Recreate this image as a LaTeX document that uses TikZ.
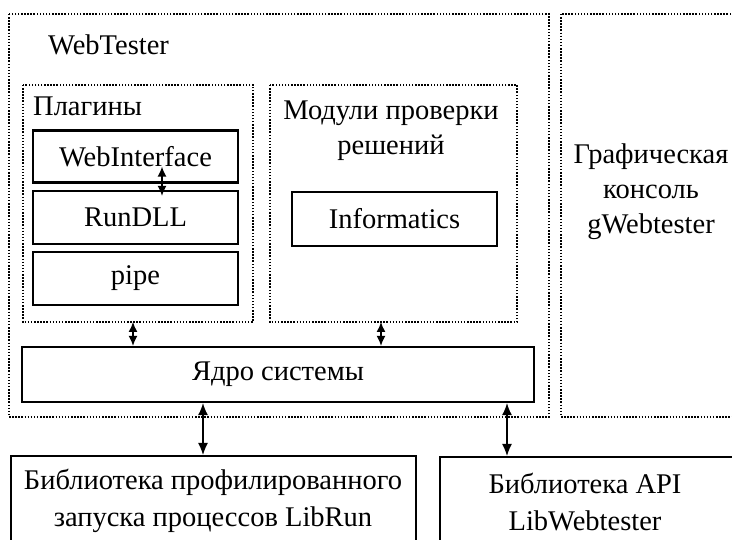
\documentclass[tikz,border=0pt]{standalone}
\usepackage{fontspec}
\setmainfont{Liberation Serif}
\usetikzlibrary{arrows.meta}
\begin{document}
\begin{tikzpicture}[x=1pt,y=-1pt,
  txt/.style={font=\fontsize{28.5}{35}\selectfont, inner sep=0pt, align=center},
  solidbox/.style={draw, line width=2.2pt},
  dotbox/.style={draw, line width=2pt, dash pattern=on 1.5pt off 1.6pt},
  biarrow/.style={line width=1.4pt, {Latex[length=12pt,width=10pt]}-{Latex[length=12pt,width=10pt]}},
  shortarrow/.style={line width=1.4pt, {Latex[length=10pt,width=9pt]}-{Latex[length=10pt,width=9pt]}}
]
\useasboundingbox (0,0) rectangle (732,540);
% containers
\draw[dotbox] (9,14) rectangle (549,417);
\node[txt, anchor=west] (wt) at (48,45) {WebTester};
\draw[dotbox] (561,14) rectangle (770,417);
\node[txt] (gw) at (651,192) {Графическая\\консоль\\gWebtester};
\draw[dotbox] (23,85) rectangle (253,322);
\node[txt, anchor=west] (plt) at (33,106) {Плагины};
\draw[dotbox] (270,85) rectangle (517,322);
\node[txt] (modt) at (391,131) {Модули проверки\\решений};
% inner boxes
\node[solidbox, minimum width=205pt, minimum height=52pt] (webi) at (135.5,156.5) {};
\node[txt] at (webi) {WebInterface};
\node[solidbox, minimum width=205pt, minimum height=53pt] (rundll) at (135.5,217.5) {};
\node[txt] at (rundll) {RunDLL};
\node[solidbox, minimum width=205pt, minimum height=53pt] (pipe) at (135.5,278.5) {};
\node[txt] at (pipe) {pipe};
\node[solidbox, minimum width=205pt, minimum height=54pt] (inf) at (394.5,219) {};
\node[txt] at (inf) {Informatics};
\node[solidbox, minimum width=512pt, minimum height=55pt] (core) at (278,374.5) {};
\node[txt] at (core) {Ядро системы};
\node[solidbox, minimum width=405pt, minimum height=120pt, anchor=north west] (libL) at (10,455) {};
\node[txt, font=\fontsize{28.5}{37}\selectfont] at (213,501) {Библиотека профилированного\\запуска процессов LibRun};
\node[solidbox, minimum width=330pt, minimum height=120pt, anchor=north west] (libR) at (439,456) {};
\node[txt, font=\fontsize{28.5}{37}\selectfont] at (585,502) {Библиотека API\\LibWebtester};
% connectors
\coordinate (a0) at (162,0);
\coordinate (a1) at (133,322);
\coordinate (a2) at (381,322);
\coordinate (a3) at (203,0);
\coordinate (a4) at (507,0);
\draw[shortarrow, shorten <=-17pt, shorten >=-6pt] (webi.south -| a0) -- (rundll.north -| a0);
\draw[shortarrow] (a1) -- (core.north -| a1);
\draw[shortarrow] (a2) -- (core.north -| a2);
\draw[biarrow] (core.south -| a3) -- (libL.north -| a3);
\draw[biarrow] (core.south -| a4) -- (libR.north -| a4);
\end{tikzpicture}
\end{document}
